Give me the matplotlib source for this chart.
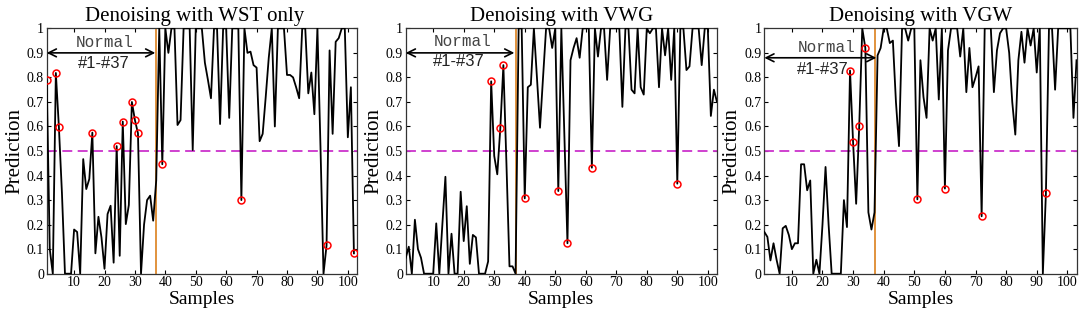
import numpy as np
import matplotlib
matplotlib.use('Agg')
import matplotlib.pyplot as plt

# predictions, samples 1..N
wst_only = [0.79, 0.10, 0.0, 0.818, 0.598, 0.33, 0.0, 0.0, 0.0, 0.18,
            0.17, 0.0, 0.467, 0.345, 0.386, 0.575, 0.083, 0.232, 0.148, 0.02,
            0.243, 0.277, 0.045, 0.52, 0.073, 0.62, 0.202, 0.28, 0.70, 0.626,
            0.572, 0.0, 0.2, 0.30, 0.318, 0.216, 0.38, 1.0, 0.446, 1.0,
            0.90, 1.0, 1.0, 0.606, 0.626, 1.0, 1.0, 1.0, 0.504, 1.0,
            1.0, 1.0, 0.86, 0.79, 0.715, 1.0, 1.0, 0.61, 1.0, 1.0,
            0.635, 1.0, 1.0, 1.0, 0.30, 1.0, 0.90, 0.905, 0.85, 0.84,
            0.54, 0.57, 0.72, 0.88, 1.0, 0.60, 1.0, 1.0, 1.0, 0.81,
            0.81, 0.80, 0.76, 0.715, 1.0, 1.0, 0.735, 0.82, 0.65, 1.0,
            0.52, 0.0, 0.115, 0.91, 0.57, 0.945, 0.96, 1.0, 1.0, 0.556,
            0.76, 0.083]
wst_only_err = [1, 4, 5, 16, 24, 26, 29, 30, 31, 39, 65, 93, 102]

vwg = [0.065, 0.11, 0.0, 0.22, 0.10, 0.065, 0.0, 0.0, 0.0, 0.0,
       0.205, 0.0, 0.2, 0.395, 0.0, 0.163, 0.0, 0.0, 0.334, 0.133,
       0.275, 0.04, 0.158, 0.148, 0.0, 0.0, 0.0, 0.05, 0.784, 0.48,
       0.405, 0.594, 0.85, 0.45, 0.03, 0.03, 0.0, 1.0, 1.0, 0.307,
       0.76, 0.77, 1.0, 0.8, 0.595, 0.8, 1.0, 1.0, 0.92, 1.0,
       0.337, 1.0, 0.56, 0.124, 0.87, 0.92, 0.96, 0.88, 1.0, 1.0,
       1.0, 0.432, 1.0, 0.885, 1.0, 1.0, 0.79, 1.0, 1.0, 1.0,
       1.0, 0.68, 1.0, 1.0, 0.75, 0.735, 1.0, 0.76, 0.73, 1.0,
       0.98, 1.0, 1.0, 0.76, 1.0, 0.89, 1.0, 0.79, 1.0, 0.367,
       1.0, 1.0, 0.83, 0.845, 1.0, 1.0, 1.0, 0.85, 1.0, 1.0,
       0.643, 0.75, 0.70]
vwg_err = [29, 32, 33, 40, 51, 54, 62, 90]

vgw = [0.17, 0.15, 0.054, 0.124, 0.057, 0.0, 0.185, 0.195, 0.158, 0.10,
       0.124, 0.124, 0.446, 0.446, 0.34, 0.38, 0.0, 0.057, 0.0, 0.2,
       0.435, 0.2, 0.0, 0.0, 0.0, 0.0, 0.30, 0.19, 0.828, 0.535,
       0.285, 0.60, 1.0, 0.92, 0.25, 0.18, 0.25, 0.89, 0.92, 1.0,
       1.0, 0.94, 0.95, 0.70, 0.52, 1.0, 1.0, 0.95, 1.0, 1.0,
       0.303, 0.87, 0.72, 0.635, 1.0, 0.95, 1.0, 0.71, 1.0, 0.347,
       0.91, 1.0, 1.0, 1.0, 0.885, 1.0, 0.74, 0.92, 0.76, 0.80,
       0.845, 0.234, 1.0, 1.0, 1.0, 0.74, 0.91, 0.98, 1.0, 1.0,
       0.9, 0.7, 0.567, 0.87, 0.986, 0.86, 1.0, 0.93, 1.0, 0.82,
       1.0, 0.0, 0.328, 1.0, 1.0, 0.75, 1.0, 1.0, 1.0, 1.0,
       1.0, 0.635, 0.87]
vgw_err = [29, 30, 32, 34, 51, 60, 72, 93]

titles = ['Denoising with WST only', 'Denoising with VWG', 'Denoising with VGW']
xticks = [10, 20, 30, 40, 50, 60, 70, 80, 90, 100]
yticks = [0, 0.1, 0.2, 0.3, 0.4, 0.5, 0.6, 0.7, 0.8, 0.9, 1]
ytick_labels = ['0', '0.1', '0.2', '0.3', '0.4', '0.5', '0.6', '0.7', '0.8', '0.9', '1']
n_normal = 37


def main():
    plt.rcParams['font.family'] = ['Liberation Serif', 'DejaVu Serif']
    fig = plt.figure(figsize=(10.84, 3.17), dpi=100)

    lefts = [0.0431, 0.3743, 0.7051]
    widths = [0.2862, 0.2871, 0.2880]
    series = [wst_only, vwg, vgw]
    errs = [wst_only_err, vwg_err, vgw_err]
    arrow_y = [0.9, 0.9, 0.88]
    arrow_end = [36.7, 36.6, 37.6]
    normal_pos = [(19.9, 0.943), (19.7, 0.948), (21.3, 0.92)]
    range_pos = [(19.7, 0.857), (18.3, 0.864), (20.2, 0.834)]
    title_x = [0.478, 0.5, 0.5]

    for i in range(3):
        ax = fig.add_axes([lefts[i], 0.1366, widths[i], 0.774])
        y = np.array(series[i])
        x = np.arange(1, len(y) + 1)
        ax.plot(x, y, color='black', lw=1.3, zorder=3)
        idx = np.array(errs[i])
        ax.plot(idx, y[idx - 1], 'o', mfc='none', mec='red', mew=1.1, ms=5, zorder=4)

        ax.axhline(0.5, color='#CC33CC', lw=1.3, ls=(0, (5.5, 3)), zorder=2)
        ax.axvline(n_normal, color='#DE8A2E', lw=1.3, zorder=2)

        ax.annotate('', xy=(1, arrow_y[i]), xytext=(arrow_end[i], arrow_y[i]),
                    arrowprops=dict(arrowstyle='<->', lw=1.2, color='black',
                                    mutation_scale=14, shrinkA=0, shrinkB=0))
        ax.text(normal_pos[i][0], normal_pos[i][1], 'Normal', ha='center', va='center',
                family='Liberation Mono', fontsize=11.5, color='#444444')
        ax.text(range_pos[i][0], range_pos[i][1], '#1-#37', ha='center', va='center',
                family='Liberation Sans', fontsize=12, color='#222222')

        ax.set_xlim(1, 103)
        ax.set_ylim(0, 1)
        ax.set_xticks(xticks)
        ax.set_yticks(yticks)
        ax.set_yticklabels(ytick_labels)
        ax.tick_params(direction='in', top=True, right=True, labelsize=10,
                       length=3, width=0.8, pad=2)
        for s in ax.spines.values():
            s.set_linewidth(0.9)
            s.set_color('#333333')
        ax.set_title(titles[i], fontsize=15, pad=5, x=title_x[i])
        ax.set_xlabel('Samples', fontsize=14, labelpad=1)
        ax.set_ylabel('Prediction', fontsize=15, labelpad=2)

    plt.savefig('out.png', dpi=100)


if __name__ == "__main__":
    main()
